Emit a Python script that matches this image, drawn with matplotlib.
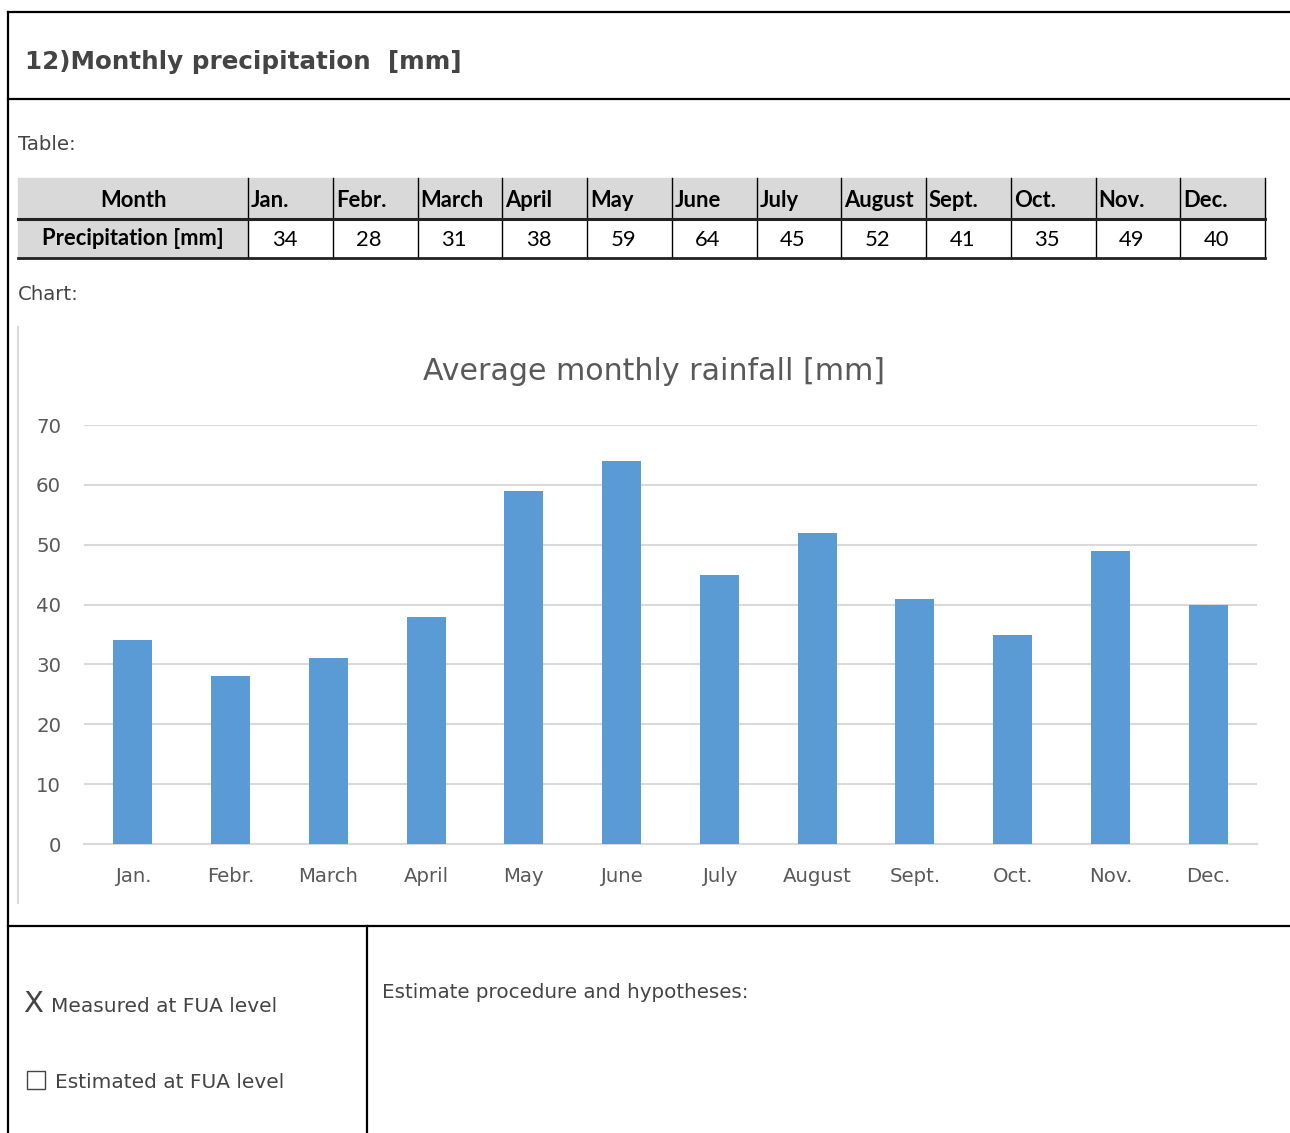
import numpy as np
import matplotlib
matplotlib.use('Agg')
import matplotlib.pyplot as plt
from matplotlib.patches import Rectangle

months = ['Jan.', 'Febr.', 'March', 'April', 'May', 'June', 'July',
          'August', 'Sept.', 'Oct.', 'Nov.', 'Dec.']
precip = [34, 28, 31, 38, 59, 64, 45, 52, 41, 35, 49, 40]
yticks = [0, 10, 20, 30, 40, 50, 60, 70]

W, H = 1290, 1133
doc_col = '#444444'
bar_col = '#5b9bd5'
grid_col = '#d9d9d9'
lab_col = '#595959'

fig = plt.figure(figsize=(W / 100, H / 100), dpi=100)

# page overlay in pixel coords
page = fig.add_axes([0, 0, 1, 1])
page.set_xlim(0, W)
page.set_ylim(H, 0)
page.axis('off')

# frame lines
lw = 1.6
page.plot([8, 8], [12, H], color='black', lw=lw)
page.plot([8, W], [12, 12], color='black', lw=lw)
page.plot([8, W], [99, 99], color='black', lw=lw)
page.plot([8, W], [926, 926], color='black', lw=lw)
page.plot([367, 367], [926, H], color='black', lw=lw)

page.text(25, 62, '12)Monthly precipitation  [mm]', fontsize=17.7, fontweight='bold',
          color=doc_col, va='center', ha='left')
page.text(18, 145, 'Table:', fontsize=14.2, color=doc_col, va='center')
page.text(18, 295, 'Chart:', fontsize=14.2, color=doc_col, va='center')

# table
col_x = [18, 248] + [248 + 84.75 * (i + 1) for i in range(12)]
r0, r1, r2 = 178, 219, 258
page.add_patch(Rectangle((18, r0), 1265 - 18, r1 - r0, color='#d9d9d9', zorder=1))
page.add_patch(Rectangle((18, r1), 248 - 18, r2 - r1, color='#d9d9d9', zorder=1))
for x in col_x[1:-1]:
    page.plot([x, x], [r0, r2], color='black', lw=1.0, zorder=3)
page.plot([1265, 1265], [r0, r2], color='black', lw=1.0, zorder=3)
page.plot([18, 1265], [r1, r1], color='#222222', lw=2.2, zorder=3)
page.plot([18, 1265], [r2, r2], color='#222222', lw=2.0, zorder=3)
tfont = dict(family='Lato', fontsize=15.8, color='black', va='center')
page.text((18 + 248) / 2, (r0 + r1) / 2 + 2, 'Month', ha='center', fontweight='bold', **tfont)
page.text((18 + 248) / 2, (r1 + r2) / 2, 'Precipitation [mm]', ha='center', fontweight='bold', **tfont)
for i, (m, v) in enumerate(zip(months, precip)):
    page.text(col_x[i + 1] + 3, (r0 + r1) / 2 + 2, m, ha='left', fontweight='bold', **tfont)
    page.text((col_x[i + 1] + col_x[i + 2]) / 2 - 6, (r1 + r2) / 2 + 1, str(v),
              ha='center', **tfont)

# chart area left border
page.plot([18, 18], [327, 903], color='#d9d9d9', lw=1.5)
page.text(654, 371, 'Average monthly rainfall [mm]', fontsize=21.6, color=lab_col,
          ha='center', va='center')

# bottom boxes
page.text(23, 1004, 'X', fontsize=21, color=doc_col, va='center')
page.text(51, 1007, 'Measured at FUA level', fontsize=14.5, color=doc_col, va='center')
page.add_patch(Rectangle((27, 1071), 18, 18, fill=False, edgecolor=doc_col, lw=1.0))
page.text(55, 1082, 'Estimated at FUA level', fontsize=14.5, color=doc_col, va='center')
page.text(382, 993, 'Estimate procedure and hypotheses:', fontsize=14.3, color=doc_col, va='center')

# bar chart
x0, x1 = 84, 1257
y_top, y_bot = 425, 844
ax = fig.add_axes([x0 / W, 1 - y_bot / H, (x1 - x0) / W, (y_bot - y_top) / H])
xs = np.arange(len(months))
ax.bar(xs, precip, width=0.4, color=bar_col, zorder=3)
ax.set_xlim(-0.5, len(months) - 0.5)
ax.set_ylim(0, 70)
ax.set_yticks(yticks)
ax.set_xticks(xs)
ax.set_xticklabels(months)
ax.grid(axis='y', color=grid_col, lw=1.5, zorder=0)
for s in ['top', 'right', 'left']:
    ax.spines[s].set_visible(False)
ax.spines['bottom'].set_color(grid_col)
ax.spines['bottom'].set_linewidth(1.5)
ax.tick_params(axis='both', length=0, colors=lab_col, labelsize=14.2)
ax.tick_params(axis='y', pad=16.5)
ax.tick_params(axis='x', pad=16.5)
ax.set_facecolor('none')

fig.savefig('out.png', dpi=100)
